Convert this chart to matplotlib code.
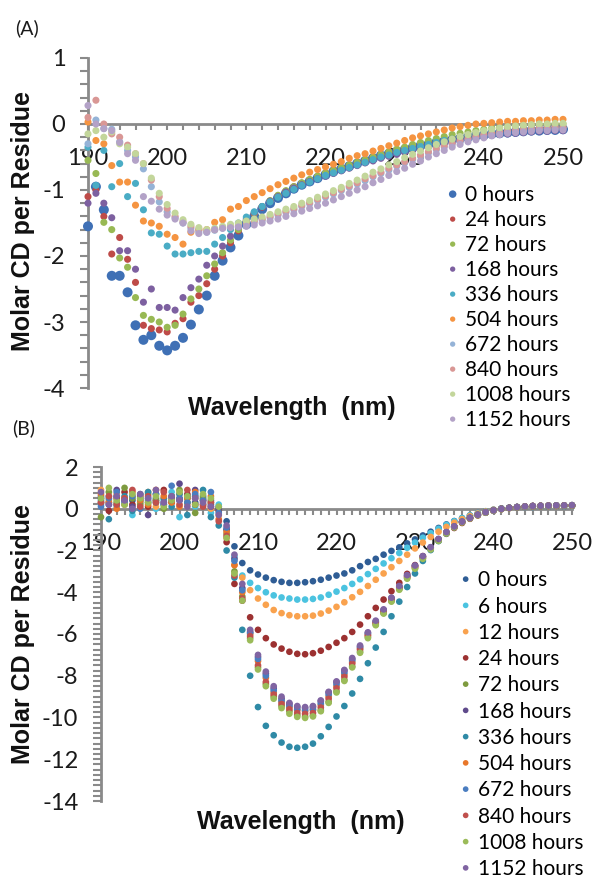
import numpy as np
import matplotlib
matplotlib.use('Agg')
import matplotlib.pyplot as plt
from matplotlib.ticker import MultipleLocator

# ── data: molar CD per residue, 190-250 nm in 1 nm steps ──
wavelength = np.arange(190, 251)

# panel A
a_labels = ['0 hours', '24 hours', '72 hours', '168 hours', '336 hours', '504 hours',
            '672 hours', '840 hours', '1008 hours', '1152 hours']
a_colors = ['#3F70B5', '#BE4B48', '#98B954', '#7D60A0', '#4AACC5', '#F59441',
            '#95B3D7', '#D99795', '#C3D69B', '#B3A2C7']

a_0h = [-1.55, -0.95, -1.3, -2.3, -2.3, -2.55, -3.05, -3.27, -3.2, -3.36, -3.43, -3.36, -3.24, -3.04, -2.81, -2.6,
        -2.3, -2.07, -1.87, -1.69, -1.52, -1.4, -1.29, -1.2, -1.12, -1.05, -0.98, -0.92, -0.87, -0.82, -0.77,
        -0.72, -0.68, -0.64, -0.6, -0.56, -0.52, -0.48, -0.45, -0.42, -0.39, -0.36, -0.33, -0.31, -0.28, -0.26,
        -0.24, -0.22, -0.2, -0.18, -0.17, -0.15, -0.14, -0.13, -0.12, -0.11, -0.1, -0.1, -0.09, -0.09, -0.08]
a_24h = [-1.1, -1.0, -1.4, -1.97, -1.72, -2.05, -2.4, -3.05, -3.1, -3.12, -3.15, -3.02, -2.95, -2.7, -2.6, -2.42,
         -2.2, -2.0, -1.8, -1.62, -1.47, -1.36, -1.26, -1.17, -1.09, -1.02, -0.95, -0.9, -0.85, -0.8, -0.75,
         -0.71, -0.67, -0.63, -0.59, -0.55, -0.51, -0.47, -0.44, -0.41, -0.38, -0.35, -0.32, -0.29, -0.27, -0.24,
         -0.22, -0.2, -0.18, -0.16, -0.14, -0.13, -0.11, -0.1, -0.09, -0.08, -0.07, -0.07, -0.06, -0.06, -0.05]
a_72h = [-0.55, -0.75, -1.49, -1.6, -2.03, -2.17, -2.63, -2.9, -2.96, -3.0, -3.08, -3.05, -2.88, -2.65, -2.5, -2.3,
         -2.12, -1.95, -1.76, -1.6, -1.46, -1.35, -1.25, -1.16, -1.08, -1.01, -0.95, -0.89, -0.84, -0.79, -0.74,
         -0.7, -0.66, -0.62, -0.58, -0.54, -0.5, -0.46, -0.42, -0.38, -0.35, -0.31, -0.28, -0.25, -0.22, -0.19,
         -0.16, -0.14, -0.12, -0.1, -0.08, -0.06, -0.05, -0.04, -0.03, -0.02, -0.01, -0.01, 0.0, 0.0, 0.0]
a_168h = [-1.2, -1.05, -1.2, -1.42, -1.92, -1.92, -2.2, -2.7, -2.5, -2.78, -2.78, -2.82, -2.63, -2.48, -2.35, -2.14,
          -2.0, -1.85, -1.7, -1.56, -1.44, -1.34, -1.25, -1.17, -1.1, -1.03, -0.97, -0.92, -0.87, -0.83, -0.79,
          -0.75, -0.71, -0.67, -0.63, -0.59, -0.56, -0.52, -0.49, -0.46, -0.43, -0.4, -0.37, -0.34, -0.32, -0.29,
          -0.27, -0.25, -0.23, -0.21, -0.19, -0.17, -0.16, -0.15, -0.14, -0.13, -0.12, -0.11, -0.11, -0.1, -0.1]
a_336h = [-0.35, -0.93, -0.4, -0.95, -0.6, -1.1, -0.9, -1.3, -1.65, -1.67, -1.85, -1.97, -1.97, -1.95, -1.93, -1.93,
          -1.82, -1.72, -1.6, -1.5, -1.41, -1.33, -1.25, -1.18, -1.11, -1.05, -0.99, -0.93, -0.88, -0.83, -0.78,
          -0.74, -0.7, -0.66, -0.62, -0.58, -0.54, -0.5, -0.47, -0.43, -0.4, -0.37, -0.34, -0.31, -0.28, -0.25,
          -0.23, -0.2, -0.18, -0.16, -0.14, -0.12, -0.11, -0.1, -0.09, -0.08, -0.07, -0.07, -0.06, -0.06, -0.05]
a_504h = [0.03, -0.25, -0.3, -0.63, -0.88, -0.88, -1.23, -1.47, -1.5, -1.55, -1.67, -1.72, -1.82, -1.64, -1.6, -1.6,
          -1.49, -1.45, -1.29, -1.25, -1.16, -1.1, -1.04, -0.98, -0.92, -0.87, -0.82, -0.77, -0.73, -0.69, -0.65,
          -0.61, -0.57, -0.52, -0.48, -0.45, -0.41, -0.37, -0.33, -0.29, -0.25, -0.21, -0.18, -0.15, -0.12, -0.09,
          -0.06, -0.04, -0.02, 0.0, 0.01, 0.02, 0.03, 0.04, 0.04, 0.05, 0.05, 0.06, 0.06, 0.07, 0.07]
a_672h = [-0.3, 0.06, -0.07, -0.08, -0.27, -0.4, -0.5, -0.68, -0.95, -1.18, -1.33, -1.42, -1.5, -1.58, -1.63, -1.64,
          -1.61, -1.58, -1.56, -1.54, -1.52, -1.49, -1.46, -1.42, -1.38, -1.34, -1.3, -1.25, -1.21, -1.16, -1.11,
          -1.06, -1.01, -0.96, -0.91, -0.86, -0.8, -0.75, -0.7, -0.64, -0.59, -0.54, -0.49, -0.44, -0.39, -0.35,
          -0.31, -0.27, -0.24, -0.21, -0.18, -0.16, -0.14, -0.12, -0.11, -0.1, -0.09, -0.08, -0.08, -0.07, -0.07]
a_840h = [0.1, 0.36, 0.0, -0.15, -0.2, -0.32, -0.45, -0.6, -0.85, -1.1, -1.28, -1.4, -1.48, -1.55, -1.6, -1.62,
          -1.6, -1.57, -1.55, -1.53, -1.5, -1.47, -1.44, -1.4, -1.36, -1.32, -1.28, -1.23, -1.19, -1.14, -1.09,
          -1.04, -0.99, -0.94, -0.89, -0.83, -0.78, -0.73, -0.67, -0.62, -0.57, -0.52, -0.47, -0.42, -0.37, -0.33,
          -0.29, -0.25, -0.22, -0.19, -0.16, -0.14, -0.12, -0.1, -0.09, -0.08, -0.07, -0.06, -0.06, -0.05, -0.05]
a_1008h = [-0.15, -0.1, -0.2, -0.12, -0.3, -0.35, -0.45, -0.6, -0.82, -1.05, -1.22, -1.35, -1.45, -1.52, -1.57, -1.6,
           -1.58, -1.55, -1.52, -1.5, -1.47, -1.44, -1.41, -1.37, -1.33, -1.29, -1.25, -1.2, -1.16, -1.11, -1.06,
           -1.01, -0.96, -0.9, -0.85, -0.79, -0.73, -0.68, -0.62, -0.57, -0.51, -0.46, -0.41, -0.36, -0.31, -0.27,
           -0.23, -0.19, -0.16, -0.13, -0.1, -0.08, -0.06, -0.04, -0.03, -0.02, -0.01, 0.0, 0.0, 0.01, 0.01]
a_1152h = [0.28, 0.0, -0.07, -0.1, -0.28, -0.45, -0.55, -1.1, -1.17, -1.29, -1.38, -1.44, -1.5, -1.62, -1.66, -1.64,
           -1.6, -1.58, -1.57, -1.56, -1.55, -1.53, -1.5, -1.47, -1.44, -1.4, -1.36, -1.32, -1.28, -1.24, -1.2,
           -1.15, -1.1, -1.05, -1.0, -0.95, -0.89, -0.84, -0.78, -0.72, -0.67, -0.61, -0.56, -0.5, -0.45, -0.4,
           -0.35, -0.31, -0.27, -0.24, -0.21, -0.18, -0.16, -0.14, -0.13, -0.12, -0.11, -0.1, -0.1, -0.09, -0.09]

# panel B
b_labels = ['0 hours', '6 hours', '12 hours', '24 hours', '72 hours', '168 hours', '336 hours',
            '504 hours', '672 hours', '840 hours', '1008 hours', '1152 hours']
b_colors = ['#2F5D95', '#4BC3E0', '#F9A24E', '#9C3131', '#7E9B3F', '#5F4A8B', '#2F8AA6',
            '#E8772A', '#4A7DC0', '#C0504D', '#9BBB59', '#8064A2']

b_0h = [0.5, 0.3, 0.6, 0.2, 0.4, 0.7, 0.3, 0.5, 0.2, 0.6, 0.4, 0.5, 0.3, 0.6, 0.2, 0.1,
        -0.6, -1.8, -2.6, -2.95, -3.15, -3.3, -3.42, -3.5, -3.55, -3.55, -3.52, -3.47, -3.4, -3.3, -3.2,
        -3.1, -2.95, -2.75, -2.55, -2.4, -2.2, -2.02, -1.85, -1.66, -1.47, -1.28, -1.1, -0.92, -0.75, -0.59,
        -0.45, -0.32, -0.21, -0.12, -0.05, 0.02, 0.05, 0.07, 0.08, 0.09, 0.1, 0.1, 0.11, 0.11, 0.12]
b_6h = [0.2, 0.6, 0.1, 0.4, -0.3, 0.3, 0.5, 0.0, 0.4, 0.8, -0.4, 0.3, 0.1, 0.5, -0.2, 0.2,
        -1.0, -2.3, -3.2, -3.55, -3.8, -4.0, -4.15, -4.25, -4.3, -4.35, -4.35, -4.32, -4.25, -4.12, -3.97,
        -3.8, -3.6, -3.38, -3.13, -2.88, -2.62, -2.37, -2.12, -1.87, -1.62, -1.39, -1.17, -0.96, -0.77, -0.6,
        -0.45, -0.32, -0.21, -0.12, -0.05, 0.0, 0.04, 0.06, 0.08, 0.09, 0.1, 0.11, 0.11, 0.12, 0.12]
b_12h = [0.9, 0.4, 0.7, 0.2, 0.6, 0.3, 0.8, 0.1, 0.5, 0.3, 0.7, 0.2, 0.6, 0.4, 0.0, -0.3,
         -1.4, -2.7, -3.3, -3.9, -4.3, -4.6, -4.85, -5.0, -5.1, -5.15, -5.15, -5.12, -5.02, -4.88, -4.7,
         -4.48, -4.24, -3.98, -3.7, -3.4, -3.1, -2.8, -2.5, -2.2, -1.9, -1.62, -1.35, -1.1, -0.87, -0.67,
         -0.5, -0.35, -0.23, -0.13, -0.05, 0.0, 0.04, 0.07, 0.09, 0.1, 0.11, 0.12, 0.12, 0.13, 0.13]
b_24h = [0.3, -0.1, 0.5, 0.8, 0.2, 0.6, 0.1, 0.4, 0.9, 0.3, 0.5, 0.7, 0.2, 0.4, 0.1, -0.1,
         -1.6, -3.6, -4.4, -5.2, -5.8, -6.2, -6.5, -6.7, -6.85, -6.95, -6.97, -6.92, -6.8, -6.62, -6.42,
         -6.2, -5.9, -5.55, -5.15, -4.75, -4.35, -3.95, -3.55, -3.12, -2.7, -2.27, -1.87, -1.52, -1.2, -0.92,
         -0.68, -0.48, -0.32, -0.19, -0.09, -0.02, 0.03, 0.07, 0.09, 0.11, 0.12, 0.13, 0.13, 0.14, 0.14]
b_72h = [-0.4, 0.8, 0.3, 1.0, 0.5, 0.2, 0.7, 0.4, 0.0, 0.6, 0.9, 0.3, -0.2, 0.5, 0.3, 0.0,
         -1.2, -3.0, -4.2, -6.2, -7.6, -8.4, -9.0, -9.45, -9.7, -9.88, -9.95, -9.9, -9.65, -9.25, -8.75,
         -8.2, -7.55, -6.85, -6.15, -5.55, -5.0, -4.42, -3.85, -3.32, -2.85, -2.38, -1.93, -1.52, -1.17, -0.88,
         -0.64, -0.45, -0.3, -0.18, -0.08, -0.01, 0.04, 0.08, 0.11, 0.13, 0.14, 0.15, 0.15, 0.16, 0.16]
b_168h = [0.6, 0.2, 0.9, 0.4, 0.1, 0.5, -0.3, 0.7, 0.3, 0.5, 1.2, 0.6, 0.9, 0.2, 0.4, 0.0,
          -1.0, -2.4, -3.8, -5.9, -7.1, -7.9, -8.6, -9.1, -9.35, -9.5, -9.55, -9.5, -9.22, -8.8, -8.3,
          -7.75, -7.2, -6.6, -5.95, -5.4, -4.85, -4.28, -3.72, -3.2, -2.73, -2.28, -1.85, -1.45, -1.12, -0.85,
          -0.62, -0.44, -0.29, -0.17, -0.08, -0.01, 0.04, 0.08, 0.11, 0.13, 0.14, 0.15, 0.16, 0.16, 0.17]
b_336h = [0.4, -0.5, 0.2, 0.6, -0.1, 0.4, 0.8, 0.3, 0.5, 0.1, 0.7, -0.3, 0.6, 0.9, -0.4, -0.8,
          -2.0, -3.3, -5.8, -8.0, -9.5, -10.4, -10.85, -11.2, -11.4, -11.45, -11.4, -11.25, -10.9, -10.45, -9.95,
          -9.45, -8.85, -8.15, -7.4, -6.65, -5.9, -5.15, -4.45, -3.75, -3.1, -2.5, -1.98, -1.55, -1.18, -0.88,
          -0.63, -0.43, -0.28, -0.16, -0.07, 0.0, 0.05, 0.09, 0.11, 0.13, 0.14, 0.15, 0.16, 0.16, 0.17]
b_504h = [0.7, 0.3, 0.0, 0.5, 0.8, 0.4, 0.2, 0.9, 0.6, 0.3, 0.1, 0.5, 0.8, 0.2, 0.6, -0.5,
          -1.1, -2.7, -4.0, -6.0, -7.3, -8.1, -8.8, -9.25, -9.5, -9.65, -9.7, -9.65, -9.4, -9.0, -8.5,
          -7.95, -7.35, -6.7, -6.05, -5.45, -4.9, -4.33, -3.77, -3.25, -2.78, -2.32, -1.88, -1.48, -1.14, -0.86,
          -0.63, -0.44, -0.29, -0.17, -0.08, -0.01, 0.04, 0.08, 0.11, 0.13, 0.14, 0.15, 0.16, 0.16, 0.17]
b_672h = [0.1, 0.5, 0.8, 0.3, 0.6, 0.0, 0.4, 0.7, 0.2, 1.1, 0.5, 0.3, 0.7, 0.4, 0.8, -0.2,
          -0.9, -2.5, -3.9, -5.95, -7.2, -8.0, -8.7, -9.2, -9.45, -9.6, -9.65, -9.6, -9.32, -8.9, -8.4,
          -7.85, -7.27, -6.65, -6.0, -5.42, -4.87, -4.3, -3.75, -3.22, -2.75, -2.3, -1.86, -1.46, -1.13, -0.85,
          -0.62, -0.44, -0.29, -0.17, -0.08, -0.01, 0.04, 0.08, 0.11, 0.13, 0.14, 0.15, 0.16, 0.16, 0.17]
b_840h = [0.3, 0.6, 0.2, 0.5, 0.9, 0.1, 0.6, 0.3, 0.8, 0.4, 0.2, 0.9, 0.5, 0.1, 0.3, -0.6,
          -1.3, -3.2, -4.3, -6.1, -7.5, -8.3, -8.9, -9.35, -9.6, -9.78, -9.82, -9.78, -9.52, -9.1, -8.6,
          -8.05, -7.42, -6.75, -6.08, -5.48, -4.94, -4.36, -3.8, -3.28, -2.8, -2.34, -1.9, -1.5, -1.15, -0.87,
          -0.64, -0.45, -0.3, -0.18, -0.08, -0.01, 0.04, 0.08, 0.11, 0.13, 0.14, 0.15, 0.15, 0.16, 0.16]
b_1008h = [0.5, 1.0, 0.4, 0.2, 0.7, 0.5, 0.3, 0.6, 0.1, 0.4, 0.8, 0.6, 0.2, 0.7, 0.5, 0.1,
           -1.4, -3.1, -4.4, -6.3, -7.7, -8.5, -9.1, -9.55, -9.82, -9.97, -10.02, -9.95, -9.7, -9.3, -8.8,
           -8.25, -7.6, -6.9, -6.2, -5.58, -5.02, -4.45, -3.88, -3.35, -2.87, -2.4, -1.95, -1.54, -1.18, -0.89,
           -0.65, -0.46, -0.31, -0.19, -0.09, -0.02, 0.03, 0.07, 0.1, 0.12, 0.13, 0.14, 0.15, 0.15, 0.16]
b_1152h = [0.8, 0.2, 0.6, 0.4, 0.0, 0.7, 0.5, 0.9, 0.3, 0.6, 0.4, 0.1, 0.5, 0.3, 0.1, -0.3,
           -0.8, -2.2, -3.6, -5.8, -7.0, -7.8, -8.5, -9.0, -9.3, -9.45, -9.5, -9.45, -9.18, -8.77, -8.27,
           -7.72, -7.15, -6.55, -5.92, -5.36, -4.82, -4.26, -3.7, -3.18, -2.72, -2.27, -1.84, -1.45, -1.12, -0.85,
           -0.62, -0.44, -0.29, -0.17, -0.08, -0.01, 0.04, 0.08, 0.11, 0.13, 0.14, 0.15, 0.16, 0.16, 0.17]

a_series = [a_0h, a_24h, a_72h, a_168h, a_336h, a_504h, a_672h, a_840h, a_1008h, a_1152h]
b_series = [b_0h, b_6h, b_12h, b_24h, b_72h, b_168h, b_336h, b_504h, b_672h, b_840h, b_1008h, b_1152h]

TICK_FONT = 'Lato'
LABEL_FONT = 'Liberation Sans'
AXIS_GRAY = '#8a8a8a'
W, H = 599, 888


def px_box(left, top, right, bottom):
    # pixel box -> figure fraction [l, b, w, h]
    return [left / W, 1 - bottom / H, (right - left) / W, (bottom - top) / H]


def style_axes(ax, ylim, yticks, yminor, xminor):
    ax.set_xlim(190, 250)
    ax.set_ylim(*ylim)
    for s in ['top', 'right']:
        ax.spines[s].set_visible(False)
    ax.spines['bottom'].set_position(('data', 0))
    for s in ['left', 'bottom']:
        ax.spines[s].set_color(AXIS_GRAY)
        ax.spines[s].set_linewidth(2.0)
    ax.xaxis.set_major_locator(MultipleLocator(10))
    ax.xaxis.set_minor_locator(MultipleLocator(xminor))
    ax.set_yticks(yticks)
    ax.set_yticklabels([str(v) for v in yticks])
    ax.yaxis.set_minor_locator(MultipleLocator(yminor))
    ax.tick_params(which='both', color=AXIS_GRAY, width=1.5, labelcolor='#1a1a1a',
                   labelsize=17)
    ax.tick_params(axis='x', which='both', length=4, pad=13.5)
    ax.tick_params(axis='y', which='both', length=5.8, pad=10.5)
    for lab in ax.get_xticklabels() + ax.get_yticklabels():
        lab.set_family(TICK_FONT)
    ax.set_facecolor('none')


fig = plt.figure(figsize=(W / 100, H / 100), dpi=100)
fig.patch.set_facecolor('white')

# ── panel A ──
axA = fig.add_axes(px_box(88, 58, 563, 388))
handlesA = []
for vals, lab, col in zip(a_series, a_labels, a_colors):
    size = 52 if lab == '0 hours' else 26
    h = axA.scatter(wavelength, vals, s=size, color=col, edgecolors='none',
                    label=lab, clip_on=False, zorder=3)
    handlesA.append(h)
style_axes(axA, (-4, 1), [1, 0, -1, -2, -3, -4], 0.2, 2)

fig.legend(handles=handlesA, loc='upper left', bbox_to_anchor=(436 / W, 1 - 175 / H),
           frameon=False, prop={'family': TICK_FONT, 'size': 15},
           handletextpad=0.3, labelspacing=0.24, borderpad=0, handlelength=0.6,
           scatterpoints=1, scatteryoffsets=[0.5], markerscale=0.75)

# ── panel B ──
axB = fig.add_axes(px_box(101, 467, 572, 801))
handlesB = []
for vals, lab, col in zip(b_series, b_labels, b_colors):
    h = axB.scatter(wavelength, vals, s=23, color=col, edgecolors='none',
                    label=lab, clip_on=False, zorder=3)
    handlesB.append(h)
style_axes(axB, (-14, 2), list(range(2, -15, -2)), 0.25, 1)

fig.legend(handles=handlesB, loc='upper left', bbox_to_anchor=(449 / W, 1 - 560 / H),
           frameon=False, prop={'family': TICK_FONT, 'size': 15},
           handletextpad=0.3, labelspacing=0.3, borderpad=0, handlelength=0.6,
           scatterpoints=1, scatteryoffsets=[0.5], markerscale=0.85)

# ── text ──
lab_kw = dict(family=LABEL_FONT, fontweight='bold', fontsize=18, color='#111111',
              ha='center', va='center')
fig.text(23 / W, 1 - 221 / H, 'Molar CD per Residue', rotation=90, **lab_kw)
fig.text(23 / W, 1 - 634 / H, 'Molar CD per Residue', rotation=90, **lab_kw)
fig.text(292 / W, 1 - 408 / H, 'Wavelength  (nm)', **lab_kw)
fig.text(301 / W, 1 - 822 / H, 'Wavelength  (nm)', **lab_kw)

fig.text(15 / W, 1 - 28 / H, '(A)', family=TICK_FONT, fontsize=14, color='#1a1a1a',
         ha='left', va='center')
fig.text(12 / W, 1 - 428 / H, '(B)', family=TICK_FONT, fontsize=14, color='#1a1a1a',
         ha='left', va='center')

fig.savefig('out.png', dpi=100, facecolor='white')
